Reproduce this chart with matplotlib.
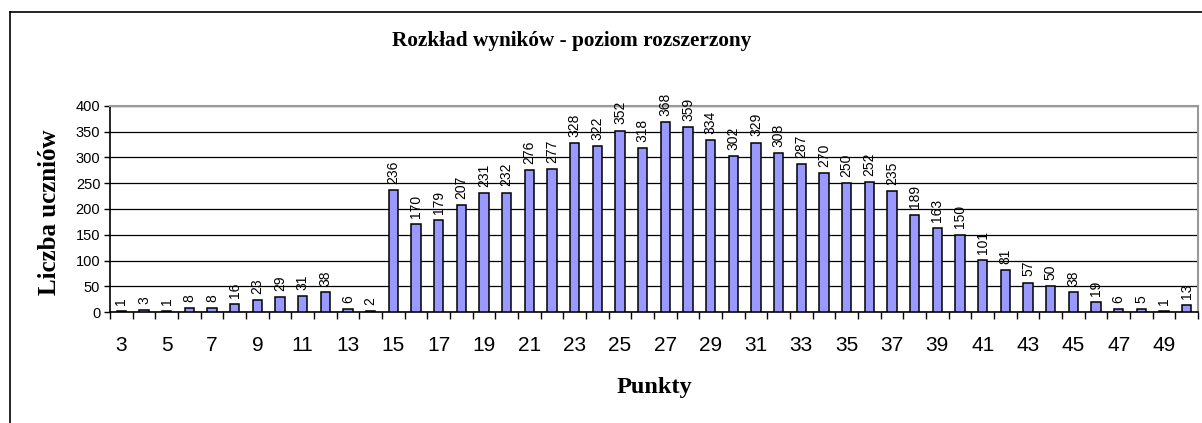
import matplotlib
matplotlib.use("Agg")
import matplotlib.pyplot as plt
from matplotlib.lines import Line2D
import numpy as np

points = list(range(3, 51))
counts = [1, 3, 1, 8, 8, 16, 23, 29, 31, 38, 6, 2, 236, 170, 179, 207, 231, 232,
          276, 277, 328, 322, 352, 318, 368, 359, 334, 302, 329, 308, 287, 270,
          250, 252, 235, 189, 163, 150, 101, 81, 57, 50, 38, 19, 6, 5, 1, 13]
y_ticks = [0, 50, 100, 150, 200, 250, 300, 350, 400]
title = "Rozkład wyników - poziom rozszerzony"
xlabel = "Punkty"
ylabel = "Liczba uczniów"

W, H = 1202, 423
fig = plt.figure(figsize=(W / 100, H / 100), dpi=100)
fig.patch.set_facecolor("white")

# outer chart border (top and left visible)
fig.add_artist(Line2D([10 / W, 1.0], [1 - 12 / H, 1 - 12 / H], color="black", lw=1.2,
                      transform=fig.transFigure))
fig.add_artist(Line2D([10 / W, 10 / W], [0, 1 - 12 / H], color="black", lw=1.2,
                      transform=fig.transFigure))

ax = fig.add_axes([110 / W, 1 - 312 / H, (1198 - 110) / W, (312 - 106) / H])
x = np.arange(len(points))
ax.bar(x, counts, width=0.4, color="#9999FF", edgecolor="black", linewidth=1.1, zorder=3)

ax.set_xlim(-0.5, len(points) - 0.5)
ax.set_ylim(0, 400)
ax.set_yticks(y_ticks)
ax.set_yticklabels([str(v) for v in y_ticks], fontsize=10.5, family="Liberation Sans")
ax.grid(axis="y", color="black", lw=0.9, zorder=0)

# x labels every other category, tick marks at category boundaries
ax.set_xticks(x[::2])
ax.set_xticklabels([str(p) for p in points[::2]], fontsize=15, family="Liberation Sans")
ax.set_xticks(np.arange(-0.5, len(points) + 0.5, 1.0), minor=True)
ax.tick_params(axis="x", which="major", length=0, pad=17)
ax.tick_params(axis="x", which="minor", length=5, width=1, direction="out")
ax.tick_params(axis="y", length=4, width=1, pad=3, direction="out")

for s in ["top", "right"]:
    ax.spines[s].set_color("#999999")
    ax.spines[s].set_linewidth(1.5)
ax.spines["left"].set_linewidth(1.2)
ax.spines["bottom"].set_linewidth(1.2)

for xi, v in zip(x, counts):
    ax.annotate(str(v), (xi, v), xytext=(0, 4.5), textcoords="offset points",
                rotation=90, ha="center", va="bottom", fontsize=10,
                family="Liberation Sans", zorder=4)

fig.text(572 / W, 1 - 41 / H, title, ha="center", va="center", fontsize=15.3,
         fontweight="bold", family="Liberation Serif")
fig.text(654 / W, 1 - 387 / H, xlabel, ha="center", va="center", fontsize=17.5,
         fontweight="bold", family="Liberation Serif")
fig.text(50 / W, 1 - 212 / H, ylabel, ha="center", va="center", fontsize=18,
         fontweight="bold", family="Liberation Serif", rotation=90)

fig.savefig("out.png", dpi=100)
